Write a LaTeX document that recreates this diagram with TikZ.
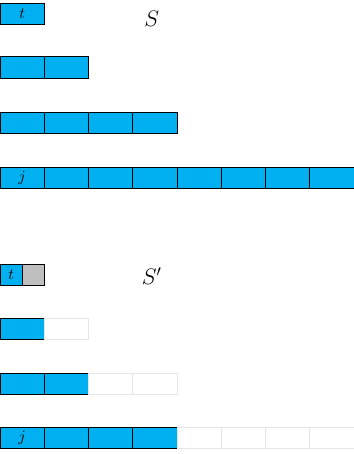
\documentclass[tikz,border=0pt]{standalone}
\usepackage{tikz}
\usetikzlibrary{positioning}
\definecolor{cellblue}{RGB}{0,176,240}

\begin{document}
\begin{tikzpicture}[
      every node/.style={font=\normalsize},
      fullcell/.style={
        rectangle, draw, line width=0.6pt, inner sep=0pt, outer sep=0pt,
        minimum width=1cm, minimum height=0.475cm, fill=cellblue
      },
      halfcell/.style={fullcell, minimum width=0.5cm},
      greycell/.style={halfcell, fill=black!25},
      emptycell/.style={
        rectangle, draw=black!10, line width=0.6pt, inner sep=0pt, outer sep=0pt,
        minimum width=1cm, minimum height=0.475cm
      },
      setlabel/.style={font=\Large}
    ]
    \useasboundingbox (0,0) rectangle (8,-10.26);

    % ===== Top: the set S =====
    \node[fullcell] (a1) at (0.5, -0.305) {$t$};
    \foreach \i in {1,2} {
      \node[fullcell] (b\i) at (\i-0.5, -1.525) {};
    }
    \foreach \i in {1,...,4} {
      \node[fullcell] (c\i) at (\i-0.5, -2.768) {};
    }
    \node[fullcell] (d1) at (0.5, -4.011) {$j$};
    \foreach \i in {2,...,8} {
      \node[fullcell] (d\i) at (\i-0.5, -4.011) {};
    }
    \node[setlabel] (s) at (3.43, -0.42) {$S$};

    % ===== Bottom: the set S' =====
    \node[halfcell] (e1) at (0.25, -6.203) {$t$};
    \node[greycell, right=0pt of e1] (e2) {};
    \node[fullcell] (f1) at (0.5, -7.424) {};
    \node[emptycell, right=0pt of f1] (f2) {};
    \foreach \i in {1,2} {
      \node[fullcell] (g\i) at (\i-0.5, -8.667) {};
    }
    \foreach \i in {3,4} {
      \node[emptycell] (g\i) at (\i-0.5, -8.667) {};
    }
    \node[fullcell] (h1) at (0.5, -9.887) {$j$};
    \foreach \i in {2,...,4} {
      \node[fullcell] (h\i) at (\i-0.5, -9.887) {};
    }
    \foreach \i in {5,...,8} {
      \node[emptycell] (h\i) at (\i-0.5, -9.887) {};
    }
    \node[setlabel] (sp) at (3.43, -6.24) {$S'$};
  \end{tikzpicture}
\end{document}
